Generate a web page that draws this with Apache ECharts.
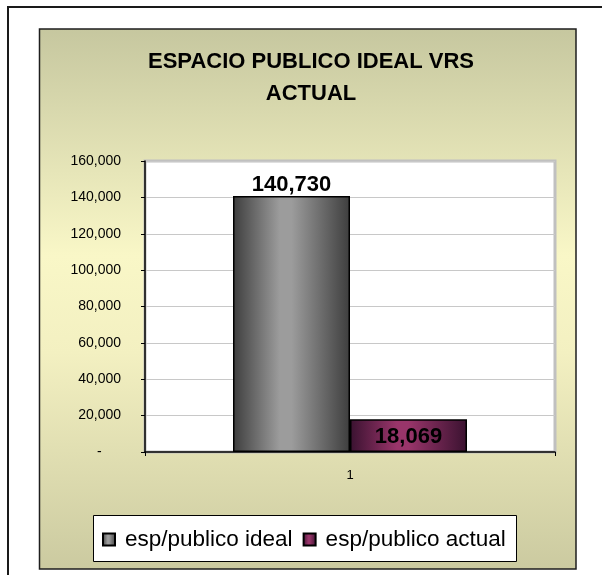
<!DOCTYPE html>
<html>
<head>
<meta charset="utf-8">
<style>
  html, body { margin: 0; padding: 0; background: #ffffff; }
  #chart { width: 602px; height: 575px; }
</style>
<script src="https://cdn.jsdelivr.net/npm/echarts@6/dist/echarts.min.js"></script>
</head>
<body>
<div id="chart"></div>
<script>
// Chart data
const titleLines = ['ESPACIO PUBLICO IDEAL VRS', 'ACTUAL'];
const categories = ['1'];
const seriesNames = ['esp/publico ideal', 'esp/publico actual'];
const idealValues = [140730];
const actualValues = [18069];
const yTicks = [0, 20000, 40000, 60000, 80000, 100000, 120000, 140000, 160000];

const FONT = '"Liberation Sans", Arial, sans-serif';

function fmt(v) {
  return String(v).replace(/\B(?=(\d{3})+(?!\d))/g, ',');
}

// Cylinder-like horizontal shading for the bars
function shade(edge, mid) {
  return {
    type: 'linear', x: 0, y: 0, x2: 1, y2: 0,
    colorStops: [
      { offset: 0, color: edge },
      { offset: 0.4, color: mid },
      { offset: 0.5, color: mid },
      { offset: 1, color: edge }
    ]
  };
}
const grayFill = shade('#3e3e3e', '#9c9c9c');
const purpleFill = shade('#3a1230', '#99356a');

const chart = echarts.init(document.getElementById('chart'), null, { renderer: 'canvas' });

chart.setOption({
  animation: false,
  backgroundColor: '#ffffff',
  graphic: [
    // outer sheet frame
    {
      type: 'rect', z: -10, silent: true,
      shape: { x: 8, y: 7, width: 620, height: 600 },
      style: { fill: '#ffffff', stroke: '#1a1a1a', lineWidth: 2 }
    },
    // chart area with olive gradient
    {
      type: 'rect', z: -9, silent: true,
      shape: { x: 39.5, y: 29, width: 536.5, height: 540 },
      style: {
        fill: {
          type: 'linear', x: 0, y: 0, x2: 0, y2: 1,
          colorStops: [
            { offset: 0, color: '#c6c79f' },
            { offset: 0.42, color: '#f9f7c7' },
            { offset: 0.6, color: '#f3f0c1' },
            { offset: 1, color: '#cbcaa0' }
          ]
        },
        stroke: '#1e1e1e', lineWidth: 1.5
      }
    },
    // legend box
    {
      type: 'rect', z: -8, silent: true,
      shape: { x: 93.5, y: 515.5, width: 423, height: 46 },
      style: { fill: '#ffffff', stroke: '#000000', lineWidth: 1 }
    }
  ],
  title: {
    text: titleLines.join('\n'),
    left: 306, top: 41, textAlign: 'center',
    textStyle: {
      fontFamily: FONT, fontSize: 22, fontWeight: 'bold', color: '#000000',
      lineHeight: 32
    }
  },
  legend: {
    data: seriesNames,
    left: 102, top: 528, padding: 0,
    itemWidth: 12, itemHeight: 12, itemGap: 10,
    icon: 'rect',
    textStyle: { fontFamily: FONT, fontSize: 22.5, color: '#000000', padding: [0, 0, 0, 5] }
  },
  grid: {
    left: 145, top: 161, right: 47, bottom: 123,
    show: true, backgroundColor: '#ffffff', borderColor: '#c0c0c0', borderWidth: 3
  },
  xAxis: {
    type: 'category',
    data: categories,
    axisLine: { show: true, lineStyle: { color: '#000000', width: 1.5 } },
    axisTick: { show: true, length: 4, alignWithLabel: false, lineStyle: { color: '#000000' } },
    axisLabel: { fontFamily: FONT, fontSize: 13, color: '#000000', margin: 17 },
    splitLine: { show: false }
  },
  yAxis: {
    type: 'value',
    min: 0, max: 160000, interval: 20000,
    axisLine: { show: true, lineStyle: { color: '#000000', width: 1.5 } },
    axisTick: { show: true, length: 4, lineStyle: { color: '#000000' } },
    axisLabel: {
      fontFamily: FONT, fontSize: 14, color: '#000000', margin: 24,
      formatter: function (v) { return v === 0 ? '-     ' : fmt(v); }
    },
    splitLine: { show: true, lineStyle: { color: '#c8c8c8', width: 1 } }
  },
  series: [
    {
      name: seriesNames[0],
      type: 'bar',
      data: idealValues,
      barWidth: 117,
      barGap: '0%',
      itemStyle: { color: grayFill, borderColor: '#000000', borderWidth: 1.5 },
      label: {
        show: true, position: 'top', distance: 0,
        fontFamily: FONT, fontSize: 22, fontWeight: 'bold', color: '#000000',
        formatter: function (p) { return fmt(p.value); }
      }
    },
    {
      name: seriesNames[1],
      type: 'bar',
      data: actualValues,
      barWidth: 117,
      barGap: '0%',
      itemStyle: { color: purpleFill, borderColor: '#000000', borderWidth: 1.5 },
      label: {
        show: true, position: 'insideTop', distance: 7,
        fontFamily: FONT, fontSize: 22, fontWeight: 'bold', color: '#000000',
        formatter: function (p) { return fmt(p.value); }
      }
    }
  ]
});
</script>
</body>
</html>
